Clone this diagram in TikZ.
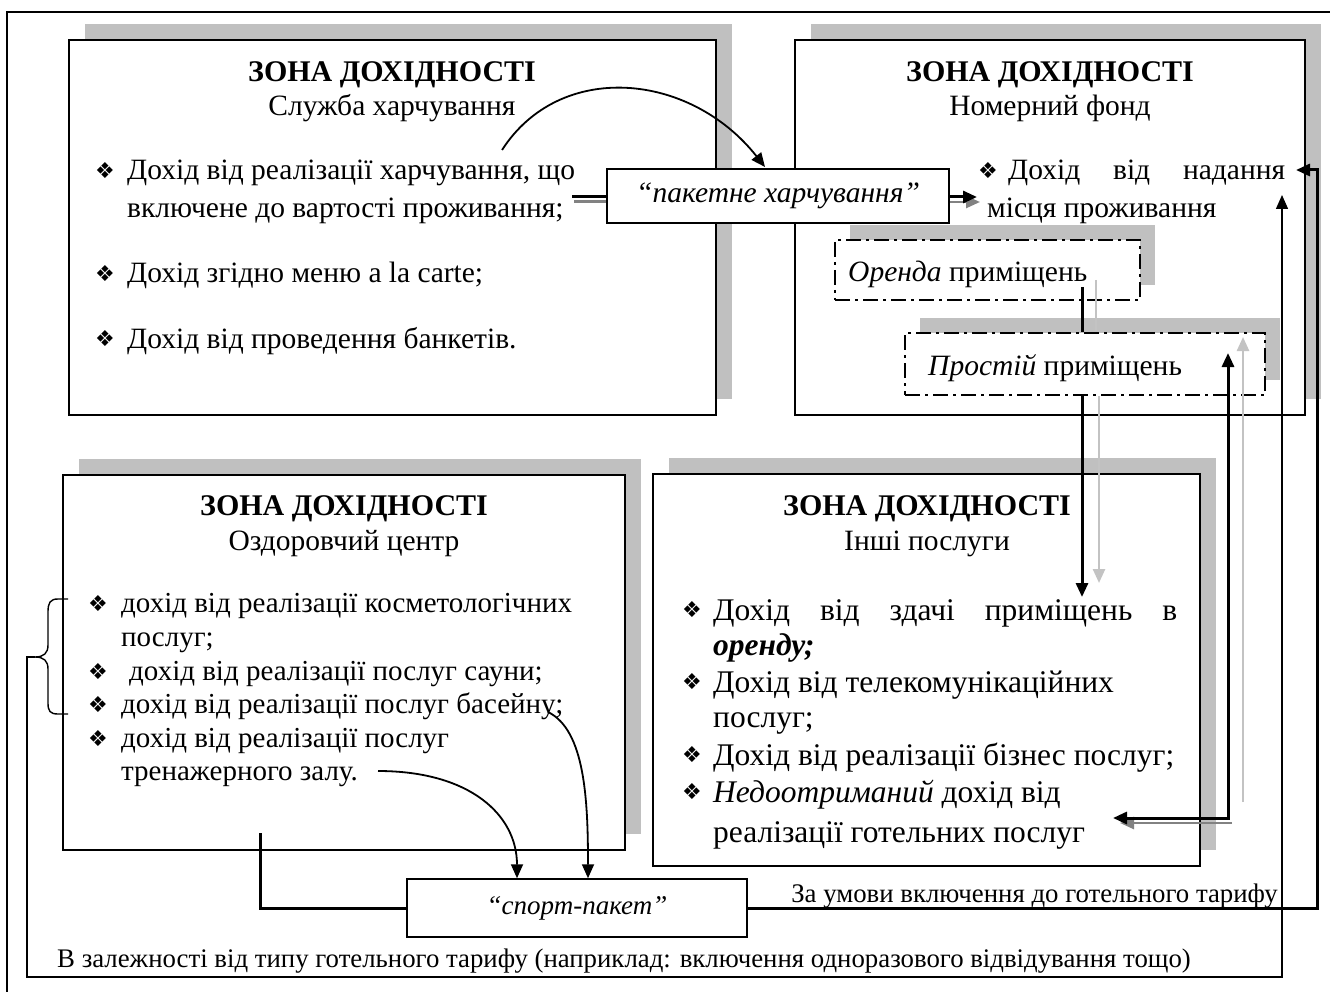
\documentclass[tikz,border=0pt]{standalone}
\usepackage{fontspec}
\setmainfont{Liberation Serif}
\newfontfamily\dingfont{DejaVu Sans}
\usetikzlibrary{arrows.meta,shadows}
\definecolor{shadowgray}{RGB}{192,192,192}
\definecolor{paleline}{RGB}{195,195,195}
\definecolor{darkline}{RGB}{130,130,130}
\newcommand{\fbig}{\fontsize{29.5}{34}\selectfont}
\newcommand{\fttl}{\fontsize{30}{34}\selectfont}
\newcommand{\fmid}{\fontsize{29}{33}\selectfont}
\newcommand{\fother}{\fontsize{31.5}{36}\selectfont}
\newcommand{\fsmall}{\fontsize{26.8}{30}\selectfont}
\begin{document}
\begin{tikzpicture}[x=1pt,y=-1pt,
  zone/.style={draw=black, line width=1.7pt, fill=white, inner sep=0pt,
    general shadow={fill=shadowgray, draw=none, shadow xshift=16pt, shadow yshift=16pt}},
  dashzone/.style={draw=black, line width=2pt, fill=white, inner sep=0pt,
    dash pattern=on 15pt off 5pt on 3pt off 5pt,
    general shadow={fill=shadowgray, draw=none, shadow xshift=15pt, shadow yshift=15pt}},
  tagbox/.style={draw=black, line width=1.5pt, fill=white, inner sep=0pt, font=\fbig\itshape},
  lbl/.style={anchor=base west, inner sep=0pt, font=\fbig},
  lblm/.style={anchor=base west, inner sep=0pt, font=\fmid},
  lblo/.style={anchor=base west, inner sep=0pt, font=\fother},
  ttl/.style={anchor=base, inner sep=0pt, font=\fttl\bfseries},
  sub/.style={anchor=base, inner sep=0pt, font=\fbig},
  bul/.style={inner sep=0pt, font=\dingfont\fontsize{22}{22}\selectfont},
  heavy/.style={line width=3pt, black},
  medium/.style={line width=1.8pt, black},
  light/.style={line width=1.4pt, black},
  tip/.style={-{Triangle[length=14pt,width=12pt]}},
  bothtips/.style={{Triangle[length=14pt,width=12pt]}-{Triangle[length=14pt,width=12pt]}}
]
\useasboundingbox (0,0) rectangle (1330,992);

% outer frame
\draw[line width=1.5pt] (7,992) -- (7,12) -- (1330,12);

% four revenue zones
\node[zone, minimum width=647pt, minimum height=375pt] (food)  at (392.5,227.5) {};
\node[zone, minimum width=510pt, minimum height=375pt] (room)  at (1050,227.5) {};
\node[zone, minimum width=562pt, minimum height=375pt] (spa)   at (344,662.5) {};
\node[zone, minimum width=547pt, minimum height=392pt] (other) at (926.5,670) {};

% catering zone
\node[ttl] (foodT) at (392,82) {ЗОНА ДОХІДНОСТІ};
\node[sub] (foodS) at (392,116) {Служба харчування};
\node[bul] (fb1) at (105,171) {❖};
\node[lbl] (f1a) at (127,180) {Дохід від реалізації харчування, що};
\node[lbl] (f1b) at (127,218) {включене до вартості проживання;};
\node[bul] (fb2) at (105,274) {❖};
\node[lbl] (f2) at (127,283) {Дохід згідно меню a la carte;};
\node[bul] (fb3) at (105,339) {❖};
\node[lbl] (f3) at (127,348) {Дохід від проведення банкетів.};

% rooms zone
\node[ttl] (roomT) at (1050,82) {ЗОНА ДОХІДНОСТІ};
\node[sub] (roomS) at (1050,116) {Номерний фонд};
\node[bul] (rb1) at (988,171) {❖};
\node[lbl] (r1a) at (1008,180) {\makebox[277pt][s]{Дохід від надання}};
\node[lbl] (r1b) at (987,218) {місця проживання};

% rent and idle boxes
\node[dashzone, minimum width=305pt, minimum height=60pt] (rent) at (987.5,270) {};
\node[lbl] (rentT) at (848,281) {\textit{Оренда} приміщень};
\node[dashzone, minimum width=360pt, minimum height=62pt] (idle) at (1085,364) {};
\node[lbl] (idleT) at (928,375) {\textit{Простій} приміщень};

% wellness zone
\node[ttl] (spaT) at (344,515) {ЗОНА ДОХІДНОСТІ};
\node[sub] (spaS) at (344,550) {Оздоровчий центр};
\node[bul] (sb1) at (98,604) {❖};
\node[lblm] (s1a) at (121,612) {дохід від реалізації косметологічних};
\node[lblm] (s1b) at (121,646) {послуг;};
\node[bul] (sb2) at (98,672) {❖};
\node[lblm] (s2) at (129,680) {дохід від реалізації послуг сауни;};
\node[bul] (sb3) at (98,705) {❖};
\node[lblm] (s3) at (121,713) {дохід від реалізації послуг басейну;};
\node[bul] (sb4) at (98,739) {❖};
\node[lblm] (s4a) at (121,747) {дохід від реалізації послуг};
\node[lblm] (s4b) at (121,780) {тренажерного залу.};

% other services zone
\node[ttl] (otherT) at (927,515) {ЗОНА ДОХІДНОСТІ};
\node[sub] (otherS) at (927,550) {Інші послуги};
\node[bul] (ob1) at (692,610) {❖};
\node[lblo] (o1a) at (713,620) {\makebox[464pt][s]{Дохід від здачі приміщень в}};
\node[lblo] (o1b) at (713,655) {\textbf{\textit{оренду;}}};
\node[bul] (ob2) at (692,682) {❖};
\node[lblo] (o2a) at (713,692) {Дохід від телекомунікаційних};
\node[lblo] (o2b) at (713,727) {послуг;};
\node[bul] (ob3) at (692,755) {❖};
\node[lblo] (o3) at (713,765) {Дохід від реалізації бізнес послуг;};
\node[bul] (ob4) at (692,792) {❖};
\node[lblo] (o4a) at (713,802) {\textit{Недоотриманий} дохід від};
\node[lblo] (o4b) at (713,842) {реалізації готельних послуг};

% bottom labels
\node[anchor=base east, inner sep=0pt, font=\fsmall] (cond) at (1278,902) {За умови включення до готельного тарифу};
\node[anchor=base west, inner sep=0pt, font=\fsmall] (dep) at (57,967) {В залежності від типу готельного тарифу (наприклад: включення одноразового відвідування тощо)};

% brace grouping the first three wellness items
\draw[light] (68,599) -- (58,599) .. controls (50,599) and (48,603) .. (48,612)
  -- (48,645) .. controls (48,653) and (44,657) .. (35,657)
  .. controls (44,657) and (48,661) .. (48,669)
  -- (48,703) .. controls (48,711) and (50,714) .. (58,714) -- (68,714);
\coordinate (bracetip) at (35,657);

% package meal flow
\coordinate (mealstart) at (572,197);
\coordinate (mealend) at (977,197);
\coordinate (curvestart) at (502,150);
\coordinate (curveend) at (765,167);
\draw[line width=3pt, darkline] ([shift={(2,5)}]mealstart) -- ([shift={(2,5)}]mealstart -| food.east);
\draw[heavy] (mealstart) -- (mealstart -| food.east);
\draw[line width=2.5pt, darkline, tip] ([shift={(3,5)}]mealstart -| room.west) -- ([shift={(3,5)}]mealend);
\draw[medium, tip] (curvestart) .. controls (560,60) and (690,72) .. (curveend);

\node[tagbox, minimum width=342pt, minimum height=54pt] (pack) at (778,196) {“пакетне харчування”};
\draw[heavy, tip] (pack.east |- mealend) -- (mealend);

% rent -> idle -> other services
\coordinate (rentdrop) at (1082,597);
\coordinate (rentghost) at (1099,583);
\draw[heavy] (1082,287) -- (rentdrop |- idle.north);
\draw[line width=2pt, paleline] (1096,280) -- (1096,331);
\draw[heavy, tip] (rentdrop |- idle.south) -- (rentdrop);
\draw[line width=2.5pt, paleline, tip] (rentghost |- idle.south) -- (rentghost);

% lost revenue <-> idle rooms
\coordinate (lostend) at (1113,818);
\coordinate (idleup) at (1228,353);
\draw[line width=2.5pt, paleline, tip] (1243,802) -- (1243,337);
\draw[line width=2.5pt, darkline, tip] (1232,823) -- (1120,823);
\draw[heavy, bothtips] (lostend) -- (lostend -| idleup) -- (idleup);

% wellness items -> sport package
\coordinate (gymend) at (378,771);
\coordinate (poolend) at (548,712);
\coordinate (brkstart) at (260,833);
\node[tagbox, minimum width=340pt, minimum height=58pt, font=\fontsize{27}{30}\selectfont\itshape] (sport) at (577,908) {“спорт-пакет”};
\draw[medium, tip] (gymend) .. controls (470,771) and (517,815) .. ([xshift=-60pt]sport.north);
\draw[medium, tip] (poolend) .. controls (585,730) and (588,800) .. ([xshift=11pt]sport.north);
\draw[heavy] (brkstart) |- (sport.west);

% sport package -> rooms revenue (tariff inclusion)
\coordinate (rightrail) at (1317,170);
\coordinate (roomtip) at (1296,170);
\draw[heavy, tip] (sport.east) -| (rightrail) -- (roomtip);

% outer dependency loop
\coordinate (loopend) at (1282,195);
\draw[light, tip] (bracetip) -- (27,657) -- (27,977) -- (1282,977) -- (loopend);
\end{tikzpicture}
\end{document}
